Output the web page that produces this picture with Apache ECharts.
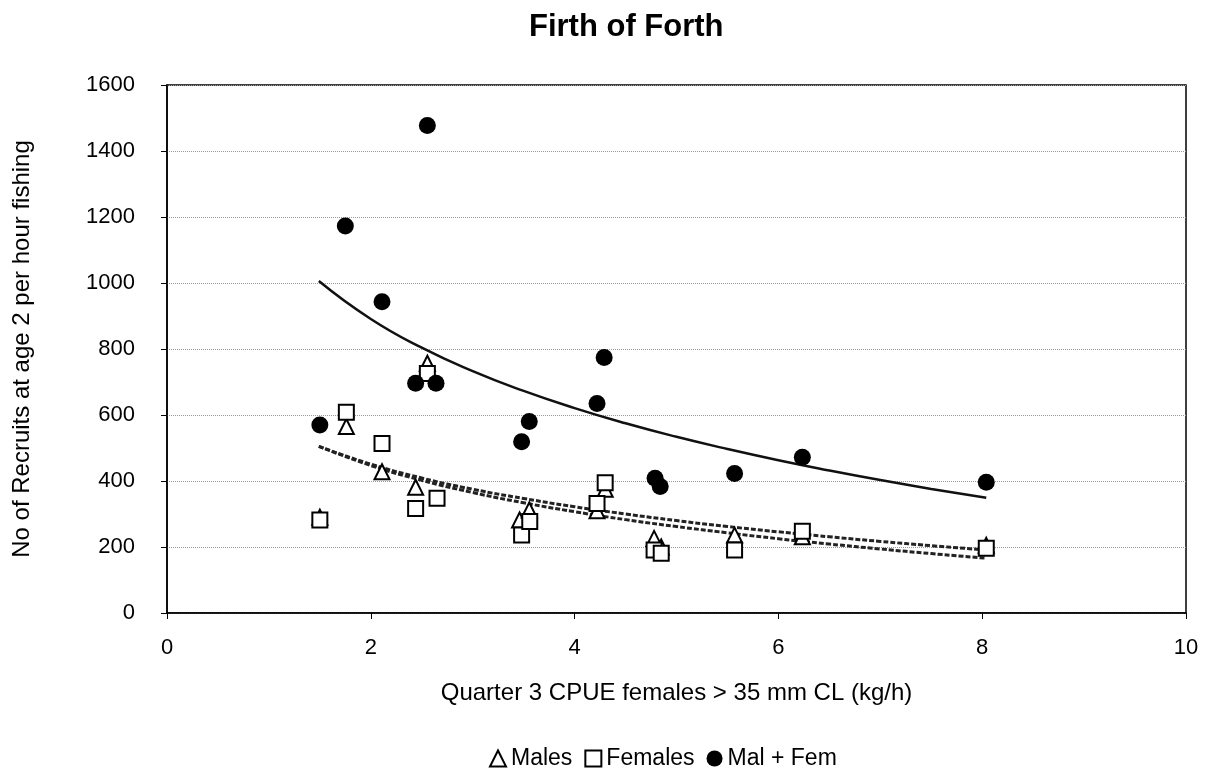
<!DOCTYPE html>
<html>
<head>
<meta charset="utf-8">
<script src="https://cdn.jsdelivr.net/npm/echarts@6/dist/echarts.min.js"></script>
<style>html,body{margin:0;padding:0;background:#fff}#c{width:1207px;height:772px}</style>
</head>
<body>
<div id="c"></div>
<script>
// Males (triangles)
const malesX = [1.50, 1.76, 2.11, 2.44, 2.555, 3.46, 3.555, 4.22, 4.30, 4.78, 4.85, 5.57, 6.235, 8.04];
const malesY = [290, 565, 428, 381, 757, 282, 312, 310, 375, 226, 200, 236, 231, 205];
// Females (squares)
const femX = [1.50, 1.76, 2.11, 2.44, 2.555, 2.65, 3.48, 3.56, 4.22, 4.30, 4.78, 4.85, 5.57, 6.235, 8.04];
const femY = [282, 608, 514, 317, 726, 348, 236, 277, 332, 395, 191, 181, 191, 248, 196];
// Mal + Fem (filled circles)
const mfX = [1.50, 1.75, 2.11, 2.44, 2.555, 2.64, 3.48, 3.555, 4.22, 4.29, 4.79, 4.84, 5.57, 6.235, 8.04];
const mfY = [570, 1173, 943, 696, 1477, 696, 519, 580, 635, 774, 408, 383, 423, 472, 396];
// Trend lines
const trendX = [1.49, 2, 2.5, 3, 3.5, 4, 4.5, 5, 5.5, 6, 6.5, 7, 7.5, 8.04];
const trendMF = [1006, 891, 804, 733, 673, 621, 575, 534, 497, 463, 432, 403, 376, 349];
const trendM = [505, 451, 409, 375, 347, 322, 300, 280, 262, 246, 231, 217, 204, 191];
const trendF = [505, 447, 402, 365, 334, 307, 283, 262, 243, 225, 209, 194, 180, 166];

const xTicks = [0, 2, 4, 6, 8, 10];
const yTicks = [0, 200, 400, 600, 800, 1000, 1200, 1400, 1600];

const zip = (a, b) => a.map((v, i) => [v, b[i]]);
const font = '"Liberation Sans", Arial, sans-serif';

const chart = echarts.init(document.getElementById('c'), null, {renderer: 'canvas'});
chart.setOption({
  animation: false,
  backgroundColor: '#fff',
  title: {
    text: 'Firth of Forth', left: 524, top: 7,
    textStyle: {fontFamily: font, fontSize: 31, fontWeight: 'bold', color: '#000'}
  },
  grid: {left: 167, right: 21, top: 85, bottom: 159, show: true, borderColor: '#000', borderWidth: 1.5, backgroundColor: '#fff'},
  legend: {
    data: ['Males', 'Females', 'Mal + Fem'],
    top: 742, left: 484,
    itemWidth: 16, itemHeight: 16, itemGap: 12,
    textStyle: {fontFamily: font, fontSize: 23, color: '#000'}
  },
  xAxis: {
    type: 'value', min: 0, max: 10, interval: 2,
    name: 'Quarter 3 CPUE females > 35 mm CL (kg/h)',
    nameLocation: 'middle', nameGap: 68,
    nameTextStyle: {fontFamily: font, fontSize: 24, color: '#000'},
    axisLine: {show: true, lineStyle: {color: '#000', width: 1.5}},
    axisTick: {show: true, inside: false, length: 6, lineStyle: {color: '#000'}},
    axisLabel: {fontFamily: font, fontSize: 22, color: '#000', margin: 24,
      formatter: v => xTicks.includes(v) ? String(v) : ''},
    splitLine: {show: false}
  },
  yAxis: {
    type: 'value', min: 0, max: 1600, interval: 200,
    name: 'No of Recruits at age 2 per hour fishing',
    nameLocation: 'middle', nameGap: 133, nameRotate: 90,
    nameTextStyle: {fontFamily: font, fontSize: 24, color: '#000'},
    axisLine: {show: true, lineStyle: {color: '#000', width: 1.5}},
    axisTick: {show: true, inside: false, length: 6, lineStyle: {color: '#000'}},
    axisLabel: {fontFamily: font, fontSize: 22, color: '#000', margin: 32,
      formatter: v => yTicks.includes(v) ? String(v) : ''},
    splitLine: {show: true, lineStyle: {color: '#999', type: 'dotted', width: 1}}
  },
  series: [
    {name: 'trendMF', type: 'line', data: zip(trendX, trendMF), smooth: true, showSymbol: false, silent: true,
      lineStyle: {color: '#111', width: 2.5}, z: 2},
    {name: 'trendM', type: 'line', data: zip(trendX, trendM), smooth: true, showSymbol: false, silent: true,
      lineStyle: {color: '#222', width: 3, type: [5, 2]}, z: 2},
    {name: 'trendF', type: 'line', data: zip(trendX, trendF), smooth: true, showSymbol: false, silent: true,
      lineStyle: {color: '#222', width: 3, type: [5, 2]}, z: 2},
    {name: 'Males', type: 'scatter', data: zip(malesX, malesY), symbol: 'triangle', symbolSize: 15,
      itemStyle: {color: '#fff', borderColor: '#000', borderWidth: 2, opacity: 1}, z: 3},
    {name: 'Females', type: 'scatter', data: zip(femX, femY), symbol: 'rect', symbolSize: 15,
      itemStyle: {color: '#fff', borderColor: '#000', borderWidth: 2, opacity: 1}, z: 4},
    {name: 'Mal + Fem', type: 'scatter', data: zip(mfX, mfY), symbol: 'circle', symbolSize: 17,
      itemStyle: {color: '#000', borderColor: '#000', borderWidth: 0, opacity: 1}, z: 5}
  ]
});
</script>
</body>
</html>
